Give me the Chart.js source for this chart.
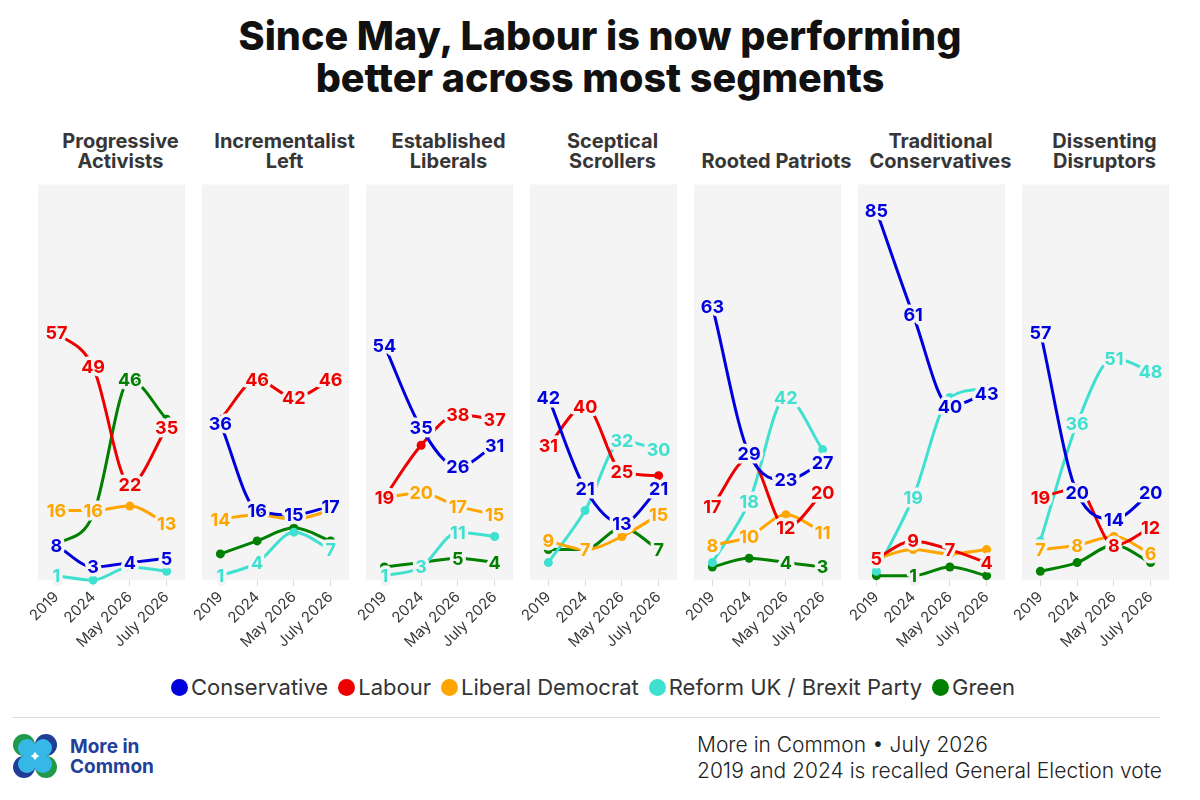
<!DOCTYPE html>
<html>
<head>
<meta charset="utf-8">
<script src="https://cdn.jsdelivr.net/npm/chart.js@4/dist/chart.umd.min.js"></script>
<style>
  body { margin: 0; width: 1200px; height: 800px; background: #fff; position: relative; overflow: hidden; font-family: Inter, "Noto Sans", sans-serif; }
  #title { position: absolute; top: 15px; left: 0; width: 1200px; text-align: center; font-weight: 800; font-size: 39.5px; line-height: 42px; color: #111; }
  .seg { position: absolute; top: 124px; width: 147px; height: 47px; display: flex; flex-direction: column; justify-content: flex-end; align-items: center; font-weight: 700; font-size: 20px; line-height: 20px; color: #363636; white-space: nowrap; }
  .panel { position: absolute; top: 180px; width: 175px; height: 470px; }
  #legend { position: absolute; top: 674px; left: 0; width: 1186px; display: flex; justify-content: center; font-size: 22px; color: #333; }
  #legend span { display: flex; align-items: center; margin: 0 5px; }
  #legend i { display: inline-block; width: 17px; height: 17px; border-radius: 50%; margin-right: 3px; }
  #rule { position: absolute; top: 717px; left: 12px; width: 1148px; height: 1px; background: #dcdcdc; }
  #logo { position: absolute; left: 12px; top: 733px; }
  #brand { position: absolute; left: 70px; top: 737px; font-weight: 700; font-size: 19px; line-height: 20px; color: #223f99; }
  #source { position: absolute; left: 697px; top: 732px; font-size: 21px; line-height: 26px; font-weight: 300; color: #222; }
</style>
</head>
<body>
<div id="title">Since May, Labour is now performing<br>better across most segments</div>
<div id="panels"></div>
<div id="legend"></div>
<div id="rule"></div>
<svg id="logo" width="46" height="46" viewBox="0 0 46 46">
  <circle cx="12" cy="12" r="11" fill="#1f9a4a"/>
  <circle cx="34" cy="12" r="11" fill="#1f3c99"/>
  <circle cx="12" cy="34" r="11" fill="#1f3c99"/>
  <circle cx="34" cy="34" r="11" fill="#1f9a4a"/>
  <circle cx="15" cy="15" r="9" fill="#36b8e6"/>
  <circle cx="31" cy="15" r="9" fill="#36b8e6"/>
  <circle cx="15" cy="31" r="9" fill="#36b8e6"/>
  <circle cx="31" cy="31" r="9" fill="#36b8e6"/>
</svg>
<div id="brand">More in<br>Common</div>
<div id="source">More in Common • July 2026<br>2019 and 2024 is recalled General Election vote</div>

<script>
'use strict';

// data

const years = ['2019', '2024', 'May 2026', 'July 2026'];

const segmentTitles = [
  ['Progressive', 'Activists'],
  ['Incrementalist', 'Left'],
  ['Established', 'Liberals'],
  ['Sceptical', 'Scrollers'],
  ['Rooted Patriots'],
  ['Traditional', 'Conservatives'],
  ['Dissenting', 'Disruptors']
];

const parties = ['Conservative', 'Labour', 'Liberal Democrat', 'Reform UK / Brexit Party', 'Green'];
const partyColours = ['#0000dd', '#ee0000', '#ffa500', '#40e0d0', '#008000'];

// one row per segment, one value per year
const conservative = [[8, 3, 4, 5], [36, 16, 15, 17], [54, 35, 26, 31], [42, 21, 13, 21], [63, 29, 23, 27], [85, 61, 40, 43], [57, 20, 14, 20]];
const labour = [[57, 49, 22, 35], [37, 46, 42, 46], [19, 31, 38, 37], [31, 40, 25, 24], [17, 28, 12, 20], [5, 9, 7, 4], [19, 21, 8, 12]];
const libDem = [[16, 16, 17, 13], [14, 15, 14, 16], [19, 20, 17, 15], [9, 7, 10, 15], [8, 10, 15, 11], [5, 7, 6, 7], [7, 8, 10, 6]];
const reform = [[1, 0, 3, 2], [1, 4, 11, 7], [1, 3, 11, 10], [4, 16, 32, 30], [4, 18, 42, 30], [2, 19, 42, 44], [9, 36, 51, 48]];
const green = [[8, 15, 46, 37], [6, 9, 12, 9], [3, 4, 5, 4], [7, 7, 12, 7], [3, 5, 4, 3], [1, 1, 3, 1], [2, 4, 8, 4]];

// labels left off in the original (segment, party, year) - shown as a dot instead
const hiddenLabels = [
  [0, 2, 2], [0, 3, 1], [0, 3, 2], [0, 3, 3], [0, 4, 0], [0, 4, 1], [0, 4, 3],
  [1, 1, 0], [1, 2, 1], [1, 2, 2], [1, 2, 3], [1, 3, 2], [1, 4, 0], [1, 4, 1], [1, 4, 2], [1, 4, 3],
  [2, 1, 1], [2, 2, 0], [2, 3, 3], [2, 4, 0], [2, 4, 1],
  [3, 1, 3], [3, 2, 2], [3, 3, 0], [3, 3, 1], [3, 4, 0], [3, 4, 1], [3, 4, 2],
  [4, 1, 1], [4, 2, 2], [4, 3, 0], [4, 3, 3], [4, 4, 0], [4, 4, 1],
  [5, 2, 0], [5, 2, 1], [5, 2, 2], [5, 2, 3], [5, 3, 0], [5, 3, 2], [5, 3, 3], [5, 4, 0], [5, 4, 2], [5, 4, 3],
  [6, 1, 1], [6, 2, 2], [6, 3, 0], [6, 4, 0], [6, 4, 1], [6, 4, 2], [6, 4, 3]
];

const partySeries = [conservative, labour, libDem, reform, green];

// layout

let panelLeft = 38;
let panelStep = 164;
let panelPad = 14;
let titleShift = 9;
let panelBg = '#f4f4f4';

function isHidden(seg, party, year) {
  return hiddenLabels.some(h => h[0] === seg && h[1] === party && h[2] === year);
}

// grey background behind the plot area
const panelBackground = {
  id: 'panelBackground',
  beforeDraw(chart) {
    let a = chart.chartArea;
    chart.ctx.save();
    chart.ctx.fillStyle = panelBg;
    chart.ctx.fillRect(a.left, a.top, a.right - a.left, a.bottom - a.top);
    chart.ctx.restore();
  }
};

// value labels with a halo that cuts the lines
const valueLabels = {
  id: 'valueLabels',
  afterDatasetsDraw(chart) {
    let ctx = chart.ctx;
    let seg = chart.options.segIndex;
    ctx.save();
    ctx.font = '700 18px Inter, "Noto Sans", sans-serif';
    ctx.textAlign = 'center';
    ctx.textBaseline = 'middle';
    ctx.lineJoin = 'round';
    ctx.lineWidth = 7;
    ctx.strokeStyle = panelBg;
    for (let d = chart.data.datasets.length - 1; d >= 0; d--) {
      let meta = chart.getDatasetMeta(d);
      let ds = chart.data.datasets[d];
      meta.data.forEach((pt, i) => {
        if (isHidden(seg, d, i)) return;
        let txt = String(ds.data[i]);
        ctx.strokeText(txt, pt.x, pt.y + 1);
        ctx.fillStyle = ds.borderColor;
        ctx.fillText(txt, pt.x, pt.y + 1);
      });
    }
    ctx.restore();
  }
};

let panels = document.getElementById('panels');

segmentTitles.forEach((title, s) => {
  let left = panelLeft + s * panelStep;

  let head = document.createElement('div');
  head.className = 'seg';
  head.style.left = (left + titleShift) + 'px';
  head.innerHTML = title.map(t => '<div>' + t + '</div>').join('');
  panels.appendChild(head);

  let box = document.createElement('div');
  box.className = 'panel';
  box.style.left = (left - panelPad) + 'px';
  let canvas = document.createElement('canvas');
  box.appendChild(canvas);
  panels.appendChild(box);

  let datasets = parties.map((p, k) => ({
    label: p,
    data: partySeries[k][s],
    borderColor: partyColours[k],
    backgroundColor: partyColours[k],
    borderWidth: 3,
    cubicInterpolationMode: 'monotone',
    pointRadius: years.map((y, i) => isHidden(s, k, i) ? 4.5 : 0),
    pointBorderWidth: 0,
    clip: false
  }));

  new Chart(canvas, {
    type: 'line',
    data: { labels: years, datasets: datasets },
    options: {
      segIndex: s,
      responsive: true,
      maintainAspectRatio: false,
      animation: false,
      layout: { padding: { left: panelPad, right: panelPad, top: 0, bottom: 0 } },
      plugins: { legend: { display: false }, tooltip: { enabled: false } },
      scales: {
        y: { display: false, min: 0, max: 91 },
        x: {
          offset: true,
          afterFit: (scale) => { scale.height = 70; },
          grid: { drawOnChartArea: false, drawTicks: true, tickLength: 6, color: '#dddddd' },
          border: { display: false },
          ticks: {
            minRotation: 45,
            maxRotation: 45,
            padding: 2,
            color: '#3a3a3a',
            font: { family: 'Inter, "Noto Sans", sans-serif', size: 15 }
          }
        }
      }
    },
    plugins: [panelBackground, valueLabels]
  });
});

// legend
let legend = document.getElementById('legend');
parties.forEach((p, k) => {
  let item = document.createElement('span');
  item.innerHTML = '<i style="background:' + partyColours[k] + '"></i>' + p;
  legend.appendChild(item);
});
</script>
</body>
</html>
